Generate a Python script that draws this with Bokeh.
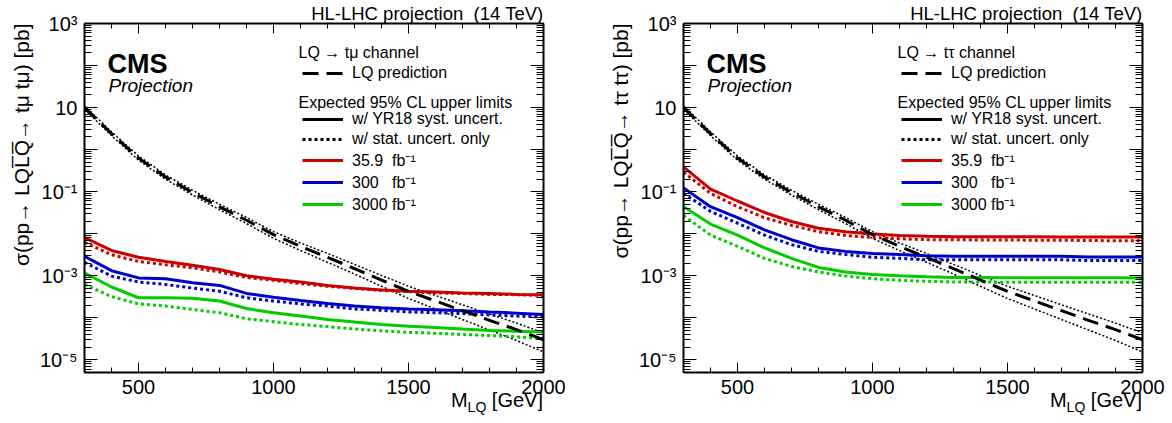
from bokeh.plotting import figure
from bokeh.models import (FixedTicker, LogAxis, LinearAxis, Label, Legend,
                          LegendItem, Range1d, Title, Div)
from bokeh.layouts import row, column
from bokeh.embed import file_html
from bokeh.resources import INLINE

# ---------------- data ----------------
mass = [300, 400, 500, 600, 700, 800, 900, 1000, 1100, 1200, 1300, 1400,
        1500, 1600, 1700, 1800, 1900, 2000]

lq_xsec = [10.0, 2.4, 0.63, 0.224, 0.0955, 0.0437, 0.0209, 0.00955, 0.00501,
           0.00275, 0.00148, 7.9e-4, 4.27e-4, 2.51e-4, 1.48e-4, 8.7e-5, 5.25e-5, 3.0e-5]
lq_xsec_up = [11.0, 2.66, 0.708, 0.251, 0.108, 0.0501, 0.0243, 0.0112, 0.00603,
              0.00339, 0.00186, 0.00102, 5.62e-4, 3.39e-4, 2.04e-4, 1.23e-4, 7.5e-5, 4.37e-5]
lq_xsec_dn = [9.12, 2.16, 0.562, 0.197, 0.0832, 0.0372, 0.0174, 0.00776, 0.00398,
              0.00209, 0.0011, 5.62e-4, 2.88e-4, 1.62e-4, 9.1e-5, 5.13e-5, 2.88e-5, 1.55e-5]

tmu_359_syst = [8.1e-3, 4.0e-3, 2.75e-3, 2.19e-3, 1.78e-3, 1.41e-3, 1.0e-3, 8.3e-4, 7.1e-4,
                5.9e-4, 5.1e-4, 4.6e-4, 4.3e-4, 4.1e-4, 3.9e-4, 3.8e-4, 3.6e-4, 3.55e-4]
tmu_359_stat = [6.2e-3, 3.16e-3, 2.19e-3, 1.82e-3, 1.55e-3, 1.23e-3, 9.1e-4, 7.8e-4, 6.5e-4,
                5.6e-4, 5.0e-4, 4.5e-4, 4.2e-4, 3.9e-4, 3.8e-4, 3.6e-4, 3.55e-4, 3.4e-4]
tmu_300_syst = [2.9e-3, 1.32e-3, 8.9e-4, 8.5e-4, 6.8e-4, 5.9e-4, 3.8e-4, 3.1e-4, 2.57e-4,
                2.19e-4, 1.9e-4, 1.74e-4, 1.62e-4, 1.55e-4, 1.48e-4, 1.38e-4, 1.29e-4, 1.2e-4]
tmu_300_stat = [2.1e-3, 9.8e-4, 7.1e-4, 6.2e-4, 5.1e-4, 4.3e-4, 3.0e-4, 2.5e-4, 2.14e-4,
                1.9e-4, 1.62e-4, 1.51e-4, 1.38e-4, 1.32e-4, 1.26e-4, 1.17e-4, 1.1e-4, 1.05e-4]
tmu_3000_syst = [1.17e-3, 5.4e-4, 3.0e-4, 3.0e-4, 2.9e-4, 2.5e-4, 1.66e-4, 1.32e-4, 1.1e-4,
                 9.1e-5, 7.9e-5, 6.9e-5, 6.3e-5, 5.9e-5, 5.4e-5, 5.0e-5, 4.8e-5, 4.6e-5]
tmu_3000_stat = [6.2e-4, 3.2e-4, 2.14e-4, 1.9e-4, 1.58e-4, 1.32e-4, 9.5e-5, 8.1e-5, 6.9e-5,
                 6.2e-5, 5.4e-5, 4.9e-5, 4.5e-5, 4.3e-5, 4.0e-5, 3.8e-5, 3.55e-5, 3.2e-5]

ttau_359_syst = [0.39, 0.115, 0.060, 0.032, 0.0195, 0.0135, 0.0112, 0.0098, 0.0091,
                 0.0087, 0.0085, 0.0085, 0.0085, 0.0085, 0.0084, 0.0084, 0.0084, 0.0083]
ttau_359_stat = [0.29, 0.091, 0.044, 0.024, 0.0158, 0.0112, 0.0091, 0.0081, 0.0076,
                 0.0072, 0.0072, 0.0071, 0.0071, 0.0070, 0.0070, 0.0069, 0.0068, 0.0068]
ttau_300_syst = [0.123, 0.044, 0.024, 0.0123, 0.0072, 0.0046, 0.0038, 0.0034, 0.0032,
                 0.0030, 0.0029, 0.0029, 0.0029, 0.0029, 0.0029, 0.0028, 0.0028, 0.0028]
ttau_300_stat = [0.091, 0.034, 0.0178, 0.0093, 0.0055, 0.0038, 0.0032, 0.00275, 0.0026,
                 0.0024, 0.0024, 0.0024, 0.0024, 0.0024, 0.0024, 0.0023, 0.0023, 0.0023]
ttau_3000_syst = [0.044, 0.017, 0.0093, 0.0046, 0.0026, 0.00158, 0.00123, 0.00107, 0.0010,
                  0.00095, 0.00091, 0.00091, 0.0009, 0.0009, 0.0009, 0.0009, 0.0009, 0.00089]
ttau_3000_stat = [0.027, 0.0093, 0.005, 0.0026, 0.00166, 0.00123, 0.00098, 0.00085, 0.00078,
                  0.00074, 0.00071, 0.00071, 0.0007, 0.0007, 0.0007, 0.0007, 0.0007, 0.0007]

lumi_labels = ["35.9  fb\u207b\u00b9", "300   fb\u207b\u00b9", "3000 fb\u207b\u00b9"]
lumi_colors = ["#cc0000", "#0000cc", "#00cc00"]

y_tick_labels = {1e-5: "10\u207b\u2075", 1e-4: "", 1e-3: "10\u207b\u00b3", 1e-2: "",
                 1e-1: "10\u207b\u00b9", 1.0: "", 10.0: "10", 100.0: "", 1000.0: "10\u00b3"}
x_major = [500, 1000, 1500, 2000]

FONT = "Liberation Sans"
FRAME_W, FRAME_H = 459, 350


def style_axis(ax, major_len, minor_len, show_labels, ticks):
    ax.axis_line_color = "black"
    ax.axis_line_width = 2
    ax.major_tick_line_color = "black"
    ax.minor_tick_line_color = "black"
    ax.major_tick_line_width = 1
    ax.minor_tick_line_width = 1
    ax.major_tick_in = major_len
    ax.major_tick_out = 0
    ax.minor_tick_in = minor_len
    ax.minor_tick_out = 0
    ax.axis_label = None
    ax.major_label_text_font = FONT
    ax.major_label_text_color = "black"
    if show_labels:
        ax.major_label_text_font_size = "20px"
        ax.major_label_standoff = 7
    else:
        ax.major_label_text_font_size = "1px"
        ax.major_label_standoff = 0
        ax.major_label_overrides = {t: "" for t in ticks}


def make_panel(width, border_left, border_right, ylabel, channel, limits):
    p = figure(width=width, height=404, x_range=Range1d(300, 2000),
               y_range=Range1d(5e-6, 1000), y_axis_type="log",
               output_backend="svg", toolbar_location=None,
               min_border_left=border_left, min_border_right=border_right,
               min_border_top=22, min_border_bottom=32,
               background_fill_color="white", border_fill_color="white",
               outline_line_color=None)
    p.xgrid.visible = False
    p.ygrid.visible = False

    y_major = list(y_tick_labels.keys())
    y_minor = [k * 10.0 ** e for e in range(-6, 3) for k in range(2, 10)]
    x_minor = list(range(300, 2001, 100))

    p.yaxis.ticker = FixedTicker(ticks=y_major, minor_ticks=y_minor)
    p.yaxis.major_label_overrides = dict(y_tick_labels)
    style_axis(p.yaxis[0], 13, 7, True, y_major)
    p.xaxis.ticker = FixedTicker(ticks=x_major, minor_ticks=x_minor)
    style_axis(p.xaxis[0], 10, 5, True, x_major)

    ra = LogAxis(ticker=FixedTicker(ticks=y_major, minor_ticks=y_minor))
    style_axis(ra, 13, 7, False, y_major)
    p.add_layout(ra, "right")
    ta = LinearAxis(ticker=FixedTicker(ticks=x_major, minor_ticks=x_minor))
    style_axis(ta, 10, 5, False, x_major)
    p.add_layout(ta, "above")

    # titles outside the frame
    p.add_layout(Title(text="HL-LHC projection\u00a0 (14 TeV)", align="right",
                       text_font=FONT, text_font_size="18.5px", text_font_style="normal",
                       text_color="black", standoff=0, offset=0), "above")
    p.add_layout(Title(text=ylabel, align="right", text_font=FONT, text_font_size="21px",
                       text_font_style="normal", text_color="black", standoff=8), "left")

    # theory band + prediction
    p.line(mass, lq_xsec_up, line_color="black", line_width=1.5, line_dash="2 2")
    p.line(mass, lq_xsec_dn, line_color="black", line_width=1.5, line_dash="2 2")

    lumi_renderers = []
    for (syst, stat), col in zip(limits, lumi_colors):
        r = p.line(mass, syst, line_color=col, line_width=3)
        p.line(mass, stat, line_color=col, line_width=3, line_dash="3 3")
        lumi_renderers.append(r)

    r_pred = p.line(mass, lq_xsec, line_color="black", line_width=3, line_dash="16 8")

    # legend-only glyphs (outside the visible range)
    r_syst = p.line(mass[:1], [1e-9], line_color="black", line_width=3)
    r_stat = p.line(mass[:1], [1e-9], line_color="black", line_width=3, line_dash="3 3")

    common = dict(glyph_width=41, glyph_height=20, label_height=20, label_standoff=9,
                  spacing=0, padding=0, margin=0, border_line_color=None,
                  background_fill_alpha=0, label_text_font=FONT,
                  label_text_font_size="16px", label_text_color="black")
    leg1 = Legend(items=[LegendItem(label="LQ prediction", renderers=[r_pred])],
                  location=(218, 289), **common)
    items2 = [LegendItem(label="w/ YR18 syst. uncert.", renderers=[r_syst]),
              LegendItem(label="w/ stat. uncert. only", renderers=[r_stat])]
    items2 += [LegendItem(label=lab, renderers=[r]) for lab, r in zip(lumi_labels, lumi_renderers)]
    leg2 = Legend(items=items2, location=(218, 157), **common)
    p.add_layout(leg1)
    p.add_layout(leg2)

    def lab(text, x, y, size, align="left", baseline="middle", style="normal"):
        p.add_layout(Label(x=x, y=y, x_units="screen", y_units="screen", text=text,
                           text_font=FONT, text_font_size=size, text_align=align,
                           text_baseline=baseline, text_font_style=style,
                           text_color="black"))

    lab(channel, 214, 320, "16px")
    lab("Expected 95% CL upper limits", 214, 270, "16px")
    lab("CMS", 23, 309, "27px", baseline="alphabetic", style="bold")
    lab("Projection", 24, 287, "19px", baseline="alphabetic", style="italic")
    return p


def xtitle(width):
    return Div(text="M<sub style='font-size:14px'>LQ</sub> [GeV]", width=width, height=22,
               margin=(-15, 0, 0, 0),
               styles={"text-align": "right", "font-family": FONT, "font-size": "20px",
                       "color": "black", "line-height": "22px", "white-space": "nowrap"})


p1 = make_panel(591, 84, 48, "\u03c3(pp\u2192 LQL\u0305Q\u0305\u2192 t\u03bc t\u03bc) [pb]",
                "LQ \u2192 t\u03bc channel",
                [(tmu_359_syst, tmu_359_stat), (tmu_300_syst, tmu_300_stat),
                 (tmu_3000_syst, tmu_3000_stat)])
p2 = make_panel(579, 92, 28, "\u03c3(pp\u2192 LQL\u0305Q\u0305\u2192 t\u03c4 t\u03c4) [pb]",
                "LQ \u2192 t\u03c4 channel",
                [(ttau_359_syst, ttau_359_stat), (ttau_300_syst, ttau_300_stat),
                 (ttau_3000_syst, ttau_3000_stat)])

layout = column(row(p1, p2, spacing=0), row(xtitle(543), xtitle(599), spacing=0), spacing=0)
open("out.html", "w").write(file_html(layout, INLINE))
